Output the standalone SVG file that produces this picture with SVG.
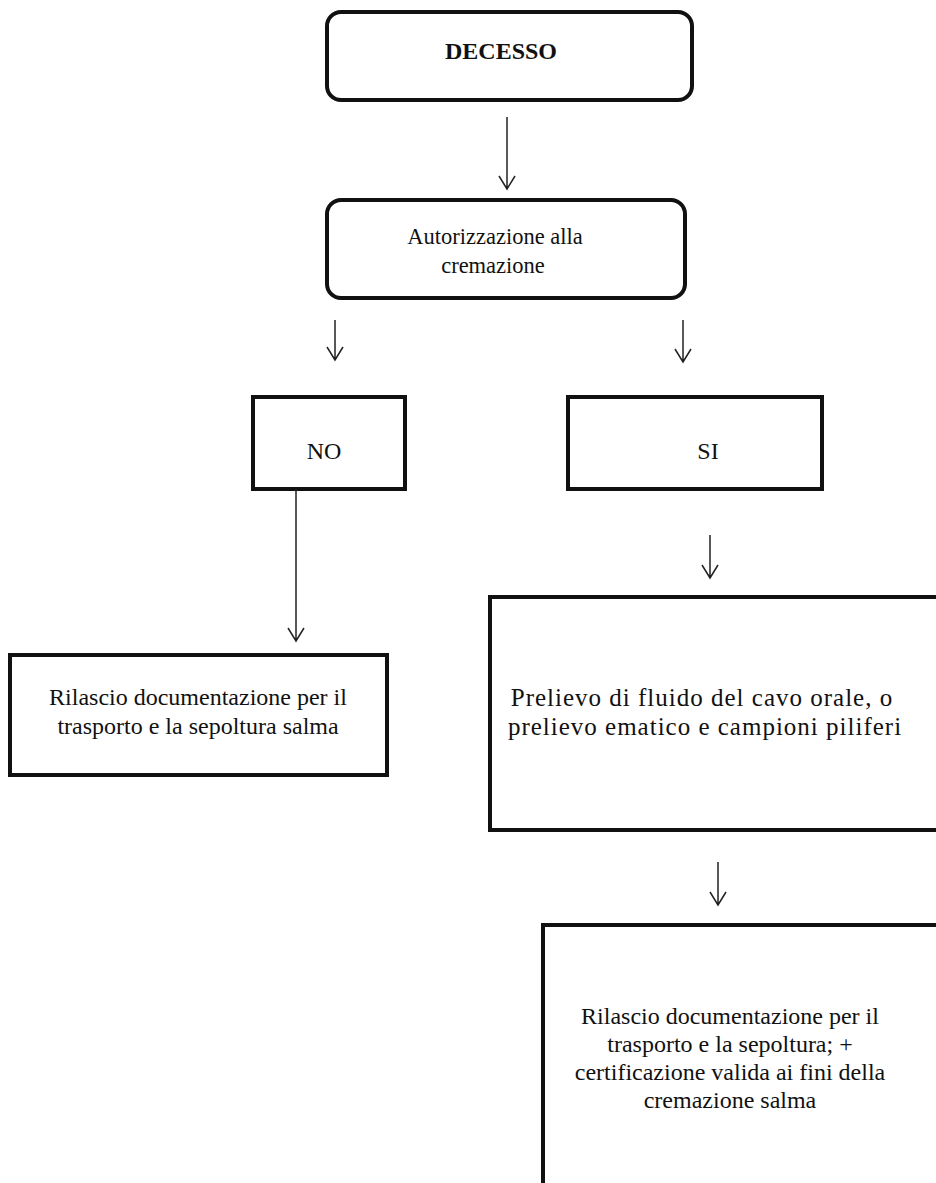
<svg xmlns="http://www.w3.org/2000/svg" width="936" height="1183" viewBox="0 0 936 1183">
<style>
.box{fill:#fff;stroke:#111;stroke-width:4}
.t{font-family:"Liberation Serif","Times New Roman",serif;font-size:24px;fill:#111;text-anchor:middle}
.b{font-weight:bold}
.s{font-size:22.5px}
.p{font-size:25px;letter-spacing:1px}
.c{stroke:#222;stroke-width:1.5;fill:none}
</style>
<rect width="936" height="1183" fill="#fff"/>
<g id="decesso"><rect class="box" x="327" y="12" width="365" height="88" rx="14"/><text class="t b" x="501" y="59">DECESSO</text></g>
<g id="autorizzazione"><rect class="box" x="327" y="200" width="358" height="98" rx="14"/><text class="t s" x="495" y="244">Autorizzazione alla</text><text class="t s" x="493" y="273">cremazione</text></g>
<g id="no"><rect class="box" x="253" y="397" width="152" height="92"/><text class="t" x="324" y="459">NO</text></g>
<g id="si"><rect class="box" x="568" y="397" width="254" height="92"/><text class="t" x="708" y="459">SI</text></g>
<g id="rilascio1"><rect class="box" x="10" y="655" width="377" height="120"/><text class="t" x="198" y="705">Rilascio documentazione per il</text><text class="t" x="198" y="734">trasporto e la sepoltura salma</text></g>
<g id="prelievo"><rect class="box" x="490" y="597" width="450" height="233"/><text class="t p" x="702" y="706">Prelievo di fluido del cavo orale, o</text><text class="t p" x="705" y="735">prelievo ematico e campioni piliferi</text></g>
<g id="rilascio2"><rect class="box" x="543" y="925" width="400" height="265"/><text class="t" x="730" y="1024">Rilascio documentazione per il</text><text class="t" x="730" y="1052">trasporto e la sepoltura; +</text><text class="t" x="730" y="1080">certificazione valida ai fini della</text><text class="t" x="730" y="1108">cremazione salma</text></g>
<g id="connectors">
<path class="c" d="M507 117V189M499 176L507 189L515 176"/>
<path class="c" d="M335 320V360M327 347L335 360L343 347"/>
<path class="c" d="M683 320V362M675 349L683 362L691 349"/>
<path class="c" d="M296 489V641M288 628L296 641L304 628"/>
<path class="c" d="M710 535V578M702 565L710 578L718 565"/>
<path class="c" d="M718 862V905M710 892L718 905L726 892"/>
</g>
</svg>
